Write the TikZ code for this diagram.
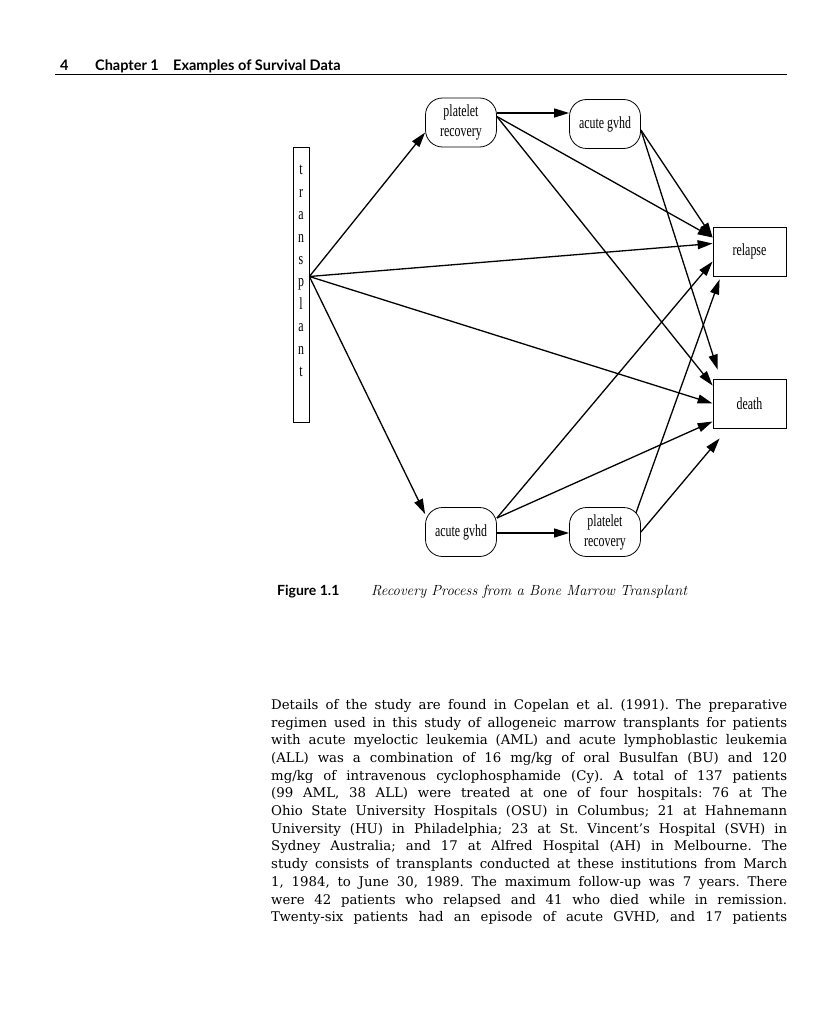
\documentclass[tikz,border=0pt]{standalone}
\usepackage{fontspec}
\usepackage{graphicx}
\usetikzlibrary{arrows.meta}
\newfontfamily\hdfont{Lato}
\newfontfamily\labfont{Liberation Serif}[FakeStretch=0.7]
\newfontfamily\bodyfont{DejaVu Serif}[Ligatures=TeX]
\newcommand{\jline}[1]{\makebox[516pt][s]{#1}}

\tikzset{
  stage/.style={draw, line width=0.8pt, rounded corners=17pt, minimum width=71pt,
    minimum height=49pt, inner sep=0pt, align=center,
    font=\labfont\fontsize{17}{20}\selectfont},
  outcome/.style={draw, line width=0.8pt, minimum width=73pt, minimum height=49pt,
    inner sep=0pt, font=\labfont\fontsize{17}{20}\selectfont},
  flow/.style={-{Triangle[length=15pt,width=9pt]}, line width=1.3pt},
  head/.style={anchor=base west, inner sep=0pt, font=\hdfont\bfseries\fontsize{14.5}{17}\selectfont},
}

\begin{document}
\begin{tikzpicture}[x=1pt, y=-1pt]
  \useasboundingbox (0,0) rectangle (819,1024);
  % running head
  \node[head] (pgno) at (60,71) {4};
  \node[head] (chap) at (95,71) {Chapter 1};
  \node[head] (title) at (173,71) {Examples of Survival Data};
  \draw[line width=1.4pt] (55,74.5) -- (787,74.5);
  % transplant bar
  \node[draw, line width=0.8pt, minimum width=16pt, minimum height=275pt, inner sep=0pt] (tp) at (301,284.5) {};
  \node[align=center, inner sep=0pt, font=\labfont\fontsize{17}{22.4}\selectfont] (tpword) at (301,271)
    {t\\r\\a\\n\\s\\p\\l\\a\\n\\t};
  % intermediate states
  \node[stage] (ptop) at (461,122.5) {platelet\\recovery};
  \node[stage] (gtop) at (605,124) {acute gvhd};
  \node[stage] (gbot) at (461,532) {acute gvhd};
  \node[stage] (pbot) at (605,532) {platelet\\recovery};
  % end points
  \node[outcome] (rel) at (749.5,251.5) {relapse};
  \node[outcome] (dth) at (749.5,403.5) {death};
  % out of transplant
  \draw[flow] ([yshift=8pt]tp.east) -- ([yshift=-10pt]ptop.west);
  \draw[flow] ([yshift=8pt]tp.east) -- ([yshift=8pt]rel.west);
  \draw[flow] ([yshift=8pt]tp.east) -- (dth.west);
  \draw[flow] ([yshift=8pt]tp.east) -- ([yshift=18pt]gbot.west);
  % upper path
  \draw[flow] ([yshift=9.5pt]ptop.east) -- ([yshift=9.5pt]ptop.east -| gtop.west);
  \draw[flow] ([yshift=6pt]ptop.east) -- ([yshift=14pt]rel.west);
  \draw[flow] ([yshift=6pt]ptop.east) -- ([yshift=-7pt]dth.north west);
  \draw[flow] ([yshift=-6pt]gtop.east) -- ([yshift=14pt]rel.west);
  \draw[flow] ([yshift=-6pt]gtop.east) -- ([xshift=5pt,yshift=9pt]dth.north west);
  % lower path
  \draw[flow] ([yshift=14pt]gbot.east) -- ([yshift=-10pt]rel.west);
  \draw[flow] ([yshift=14pt]gbot.east) -- ([yshift=-18pt]dth.west);
  \draw[flow] ([yshift=-1pt]gbot.east) -- ([yshift=-1pt]gbot.east -| pbot.west);
  \draw[flow] ([xshift=-5pt,yshift=-6pt]pbot.north east) -- ([xshift=7pt,yshift=-3pt]rel.south west);
  \draw[flow] (pbot.east) -- ([xshift=7pt,yshift=-10pt]dth.south west);
  % caption
  \node[head, font=\hdfont\bfseries\fontsize{14}{17}\selectfont] (fig) at (277,595) {Figure 1.1};
  \node[anchor=base west, inner sep=0pt, font=\itshape\fontsize{14.7}{18}\selectfont] (cap) at (371,595)
    {Recovery Process from a Bone Marrow Transplant};
  % running text
  \node[anchor=north west, inner sep=0pt, align=left, font=\bodyfont\frenchspacing\fontsize{13.3}{17.7}\selectfont] (body) at (271,699) {%
    \jline{Details of the study are found in Copelan et al. (1991). The preparative}\\
    \jline{regimen used in this study of allogeneic marrow transplants for patients}\\
    \jline{with acute myeloctic leukemia (AML) and acute lymphoblastic leukemia}\\
    \jline{(ALL) was a combination of 16 mg/kg of oral Busulfan (BU) and 120}\\
    \jline{mg/kg of intravenous cyclophosphamide (Cy). A total of 137 patients}\\
    \jline{(99 AML, 38 ALL) were treated at one of four hospitals: 76 at The}\\
    \jline{Ohio State University Hospitals (OSU) in Columbus; 21 at Hahnemann}\\
    \jline{University (HU) in Philadelphia; 23 at St. Vincent’s Hospital (SVH) in}\\
    \jline{Sydney Australia; and 17 at Alfred Hospital (AH) in Melbourne. The}\\
    \jline{study consists of transplants conducted at these institutions from March}\\
    \jline{1, 1984, to June 30, 1989. The maximum follow-up was 7 years. There}\\
    \jline{were 42 patients who relapsed and 41 who died while in remission.}\\
    \jline{Twenty-six patients had an episode of acute GVHD, and 17 patients}};
\end{tikzpicture}
\end{document}
